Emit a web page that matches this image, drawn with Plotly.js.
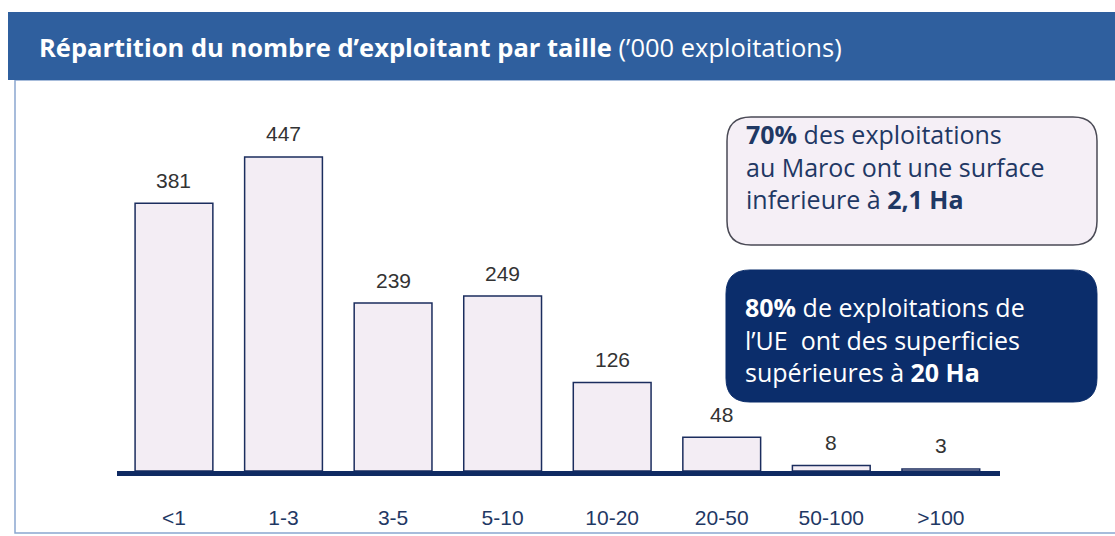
<!DOCTYPE html>
<html><head><meta charset="utf-8">
<script src="https://cdn.plot.ly/plotly-3.0.1.min.js"></script>
<style>html,body{margin:0;padding:0;background:#fff;}#chart{width:1115px;height:536px;}</style>
</head><body><div id="chart"></div>
<script>
// Data
const categories = ['<1', '1-3', '3-5', '5-10', '10-20', '20-50', '50-100', '>100'];
const values = [381, 447, 239, 249, 126, 48, 8, 3];
const titleBold = "Répartition du nombre d’exploitant par taille";
const titleNormal = " (’000 exploitations)";
const box1Text = "<b>70%</b> des exploitations<br>au Maroc ont une surface<br>inferieure à <b>2,1 Ha</b>";
const box2Text = "<b>80%</b> de exploitations de<br>l’UE  ont des superficies<br>supérieures à <b>20 Ha</b>";

// Layout geometry (pixels)
const W = 1115, H = 536;
const L = 117, R = 1000, T = 100, B = 471;
const px = p => (p - L) / (R - L);
const py = q => (B - q) / (B - T);

function roundRect(x0, y0, x1, y1, r) {
  const X = p => px(p).toFixed(5), Y = q => py(q).toFixed(5);
  return `M ${X(x0 + r)} ${Y(y0)} L ${X(x1 - r)} ${Y(y0)} Q ${X(x1)} ${Y(y0)} ${X(x1)} ${Y(y0 + r)} ` +
         `L ${X(x1)} ${Y(y1 - r)} Q ${X(x1)} ${Y(y1)} ${X(x1 - r)} ${Y(y1)} ` +
         `L ${X(x0 + r)} ${Y(y1)} Q ${X(x0)} ${Y(y1)} ${X(x0)} ${Y(y1 - r)} ` +
         `L ${X(x0)} ${Y(y0 + r)} Q ${X(x0)} ${Y(y0)} ${X(x0 + r)} ${Y(y0)} Z`;
}

const trace = {
  type: 'bar',
  x: categories,
  y: values,
  width: 0.71,
  marker: { color: '#f3edf4', line: { color: '#1b2d5e', width: 1.5 } },
  hoverinfo: 'x+y'
};

const valueAnnotations = categories.map((c, i) => ({
  x: c, y: values[i], xref: 'x', yref: 'y',
  text: String(values[i]), showarrow: false,
  yanchor: 'middle', yshift: 23,
  font: { family: 'Liberation Sans, Arial, sans-serif', size: 21, color: '#333333' }
}));

const layout = {
  width: W, height: H,
  margin: { l: L, r: W - R, t: T, b: H - B, pad: 0 },
  paper_bgcolor: '#ffffff',
  plot_bgcolor: 'rgba(0,0,0,0)',
  showlegend: false,
  bargap: 0.29,
  xaxis: {
    type: 'category',
    range: [-0.52, 7.54],
    showline: true, linecolor: '#0f2a62', linewidth: 5,
    showgrid: false, zeroline: false, ticks: '',
    ticklabelstandoff: 24,
    tickfont: { family: 'Liberation Sans Narrow, Arial Narrow, sans-serif', size: 21, color: '#1f3864' },
    fixedrange: true
  },
  yaxis: {
    range: [0, (B - T) / 0.7025],
    visible: false, showgrid: false, zeroline: false, fixedrange: true
  },
  shapes: [
    // outer frame
    { type: 'rect', xref: 'paper', yref: 'paper', x0: px(15), x1: px(1125), y0: py(80), y1: py(533),
      line: { color: '#8aa6d0', width: 1.5 }, fillcolor: 'rgba(0,0,0,0)', layer: 'below' },
    // header bar
    { type: 'rect', xref: 'paper', yref: 'paper', x0: px(8), x1: px(1125), y0: py(12), y1: py(80),
      line: { width: 0 }, fillcolor: '#2f5f9e', layer: 'below' },
    // box 1
    { type: 'path', xref: 'paper', yref: 'paper', path: roundRect(727, 117, 1097, 245, 24),
      line: { color: '#4a4a55', width: 1.5 }, fillcolor: '#f5eff6', layer: 'above' },
    // box 2
    { type: 'path', xref: 'paper', yref: 'paper', path: roundRect(726, 270, 1097, 402, 24),
      line: { color: '#0b2d6b', width: 1 }, fillcolor: '#0b2d6b', layer: 'above' }
  ],
  annotations: valueAnnotations.concat([
    { xref: 'paper', yref: 'paper', x: px(37), y: py(47), xanchor: 'left', yanchor: 'middle',
      text: '<b>' + titleBold + '</b>' + titleNormal, showarrow: false,
      font: { family: 'Open Sans, sans-serif', size: 25.5, color: '#ffffff' } },
    { xref: 'paper', yref: 'paper', x: px(744), y: py(166), xanchor: 'left', yanchor: 'middle',
      text: box1Text, showarrow: false, align: 'left',
      font: { family: 'Open Sans, sans-serif', size: 25, color: '#1f3864' } },
    { xref: 'paper', yref: 'paper', x: px(743), y: py(339), xanchor: 'left', yanchor: 'middle',
      text: box2Text, showarrow: false, align: 'left',
      font: { family: 'Open Sans, sans-serif', size: 25, color: '#ffffff' } }
  ])
};

Plotly.newPlot('chart', [trace], layout, { displayModeBar: false, staticPlot: true });
</script>
</body></html>
